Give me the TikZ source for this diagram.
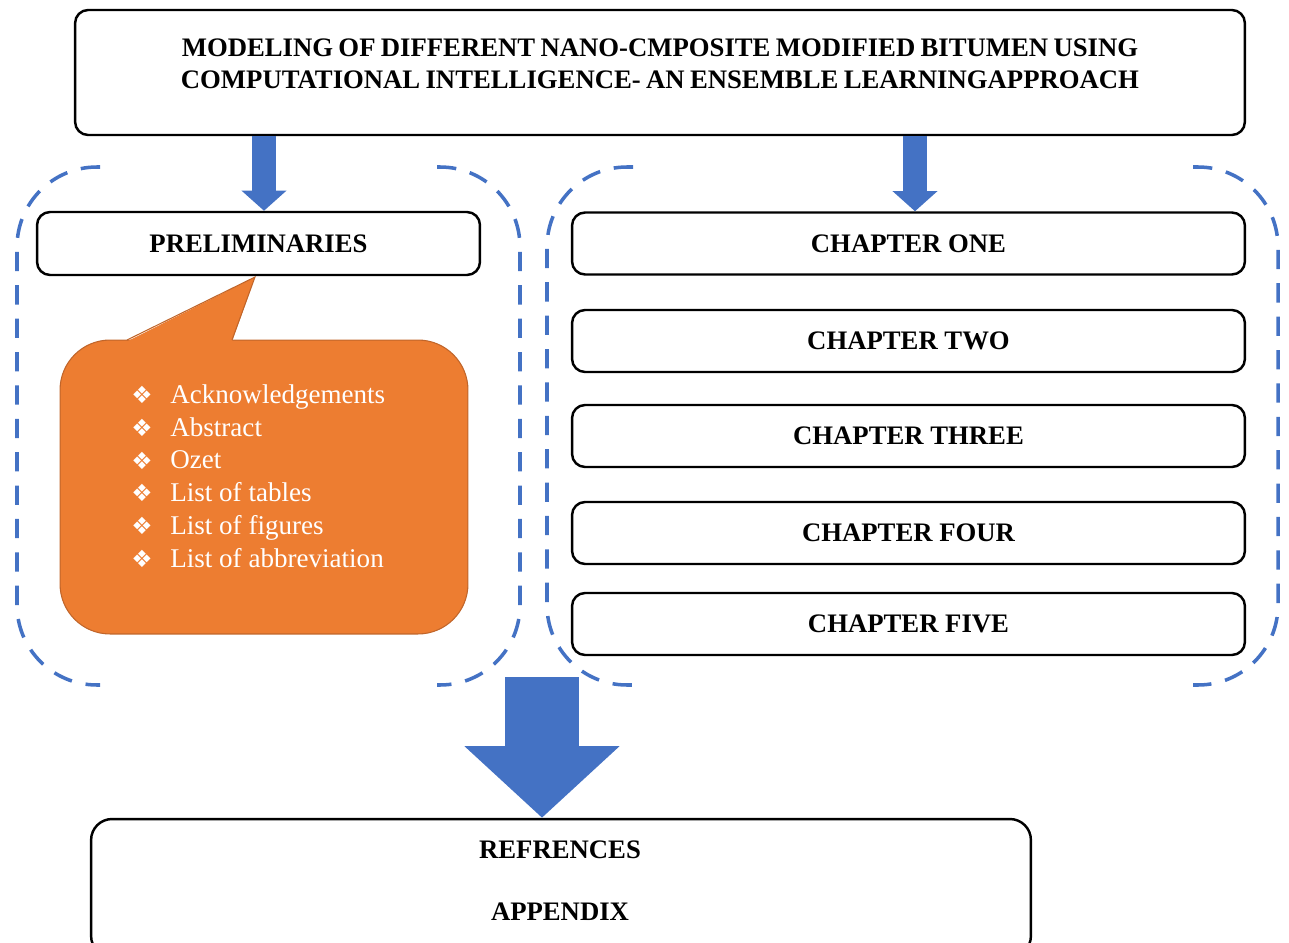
\documentclass[tikz,border=0pt]{standalone}
\usepackage{fontspec}
\setmainfont{Liberation Serif}
\newfontfamily\symfont{DejaVu Sans}
\usetikzlibrary{arrows.meta}
\definecolor{bblue}{HTML}{4472C4}
\definecolor{orng}{HTML}{ED7D31}
\definecolor{orngdark}{HTML}{C0652A}
\begin{document}
\begin{tikzpicture}[x=0.02cm,y=-0.02cm,
  box/.style={draw=black, line width=1.4pt, rounded corners=0.26cm, fill=white},
  captxt/.style={font=\fontsize{15.2}{17}\selectfont\bfseries, inner sep=0pt},
  dashb/.style={draw=bblue, line width=2pt, dash pattern=on 11pt off 8pt, rounded corners=1.6cm},
  flow/.style={draw=bblue, line width=13.6pt, -{Triangle[width=25pt,length=11.5pt]}},
  bigflow/.style={draw=bblue, line width=42.5pt, -{Triangle[width=86pt,length=40.8pt]}},
  item/.style={anchor=base west, text=white, font=\fontsize{15.4}{17}\selectfont, inner sep=0pt},
  bul/.style={text=white, font=\symfont\fontsize{13.5}{15}\selectfont, inner sep=0pt}]
\useasboundingbox (0,0) rectangle (1289,943);

% dashed groups
\draw[dashb] (100,167) -- (17,167) -- (17,685) -- (100,685);
\draw[dashb] (437,167) -- (520,167) -- (520,685) -- (437,685);
\draw[dashb] (633,167) -- (547,167) -- (547,685) -- (633,685);
\draw[dashb] (1193,167) -- (1278,167) -- (1278,685) -- (1193,685);

% boxes
\node[box, minimum width=23.4cm, minimum height=2.5cm] (title) at (660,72.5) {};
\node[captxt, align=center] (titletext) at (660,64)
  {\spaceskip=0.2em plus 0.02em MODELING OF DIFFERENT NANO-CMPOSITE MODIFIED BITUMEN USING\\[1pt]
   \spaceskip=0.2em plus 0.02em COMPUTATIONAL INTELLIGENCE- AN ENSEMBLE LEARNINGAPPROACH};

\coordinate (aL) at (264,0);
\coordinate (aR) at (915,0);
\coordinate (bigstart) at (542,677);

\node[box, minimum width=8.86cm, minimum height=1.26cm, captxt] (prelim) at (258.5,243.5) {PRELIMINARIES};
\node[box, minimum width=13.46cm, minimum height=1.24cm, captxt] (ch1) at (908.5,243.5) {CHAPTER ONE};
\node[box, minimum width=13.46cm, minimum height=1.24cm, captxt] (ch2) at (908.5,341) {CHAPTER TWO};
\node[box, minimum width=13.46cm, minimum height=1.24cm, captxt] (ch3) at (908.5,436) {CHAPTER THREE};
\node[box, minimum width=13.46cm, minimum height=1.24cm, captxt] (ch4) at (908.5,533) {CHAPTER FOUR};
\node[box, minimum width=13.46cm, minimum height=1.24cm, captxt] (ch5) at (908.5,624) {CHAPTER FIVE};

\node[draw=black, line width=1.4pt, rounded corners=0.42cm, fill=white,
      minimum width=18.8cm, minimum height=2.76cm] (bottom) at (561,888) {};
\node[captxt] (refs) at (560,850) {REFRENCES};
\node[captxt] (app) at (560,912) {APPENDIX};

% arrows
\draw[flow] (title.south -| aL) -- (prelim.north -| aL);
\draw[flow] (title.south -| aR) -- (ch1.north -| aR);
\draw[bigflow] (bigstart) -- (bottom.north -| bigstart);

% callout
\node[draw=orngdark, line width=0.6pt, fill=orng, rounded corners=1.0cm,
      minimum width=8.16cm, minimum height=5.88cm] (callout) at (264,487) {};
\fill[orng] (127,341.5) -- (255,277) -- (232,341.5) -- cycle;
\draw[orngdark, line width=0.6pt] (127,340) -- (255,277) -- (232,340);

\foreach \t [count=\i] in {Acknowledgements, Abstract, Ozet, List of tables, List of figures, List of abbreviation}{
  \node[bul] (b\i) at (142,{362+32.8*\i}) {❖};
  \node[item] (it\i) at (170,{370.5+32.8*\i}) {\t};
}
\end{tikzpicture}
\end{document}
